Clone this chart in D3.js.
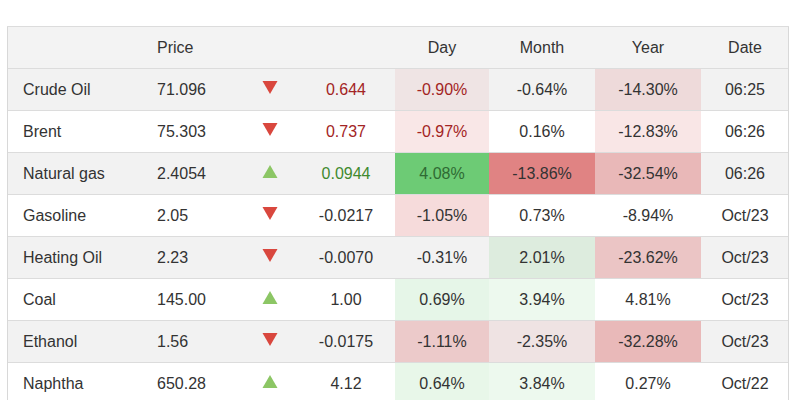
<!DOCTYPE html>
<html>
<head>
<meta charset="utf-8">
<script src="https://cdn.jsdelivr.net/npm/d3@7"></script>
<style>
  html, body { margin: 0; padding: 0; background: #fff; }
  svg { display: block; font-family: "Liberation Sans", Arial, Helvetica, sans-serif; }
</style>
</head>
<body>
<svg id="chart" width="800" height="400"></svg>
<script>
// ---- data ----
const headers = ["", "Price", "", "", "Day", "Month", "Year", "Date"];
const commodities = ["Crude Oil", "Brent", "Natural gas", "Gasoline", "Heating Oil", "Coal", "Ethanol", "Naphtha"];
const prices = ["71.096", "75.303", "2.4054", "2.05", "2.23", "145.00", "1.56", "650.28"];
const changes = ["0.644", "0.737", "0.0944", "-0.0217", "-0.0070", "1.00", "-0.0175", "4.12"];
const dayPct = [-0.90, -0.97, 4.08, -1.05, -0.31, 0.69, -1.11, 0.64];
const monthPct = [-0.64, 0.16, -13.86, 0.73, 2.01, 3.94, -2.35, 3.84];
const yearPct = [-14.30, -12.83, -32.54, -8.94, -23.62, 4.81, -32.28, 0.27];
const dates = ["06:25", "06:26", "06:26", "Oct/23", "Oct/23", "Oct/23", "Oct/23", "Oct/22"];

// ---- layout ----
const svg = d3.select("#chart");
const tLeft = 7, tRight = 789, tTop = 26, headH = 42, rowH = 42;
const edges = [7, 141, 240, 297, 395, 489, 595, 701, 789];
const col = i => ({ x0: edges[i], x1: edges[i + 1], cx: (edges[i] + edges[i + 1]) / 2 });

const rows = d3.range(commodities.length);
const y = d3.scaleBand().domain(rows).range([tTop + headH, tTop + headH + rowH * rows.length]).paddingInner(0).paddingOuter(0);

const pct = d3.formatLocale({ decimal: ".", thousands: ",", grouping: [3], currency: ["", ""], minus: "-" }).format(".2f");

const textColor = "#333";
const redBase = "#e08383", greenBase = "#6dcb75";
const redText = "#a32424", greenText = "#3f8a2e";

// heat scales (signed alpha: negative = red, positive = green)
const dayScale = d3.scaleLinear().domain([-1.11, -0.8, 0, 4.08]).range([-0.36, 0, 0, 1]).clamp(true);
const monthScale = d3.scaleLinear().domain([-13.86, -2.35, -1, 1, 2, 4]).range([-1, -0.13, 0, 0, 0.16, 0.12]).clamp(true);
const yearScale = d3.scaleLinear().domain([-32.5, -23.6, -14.3, -12.8, -9, 5]).range([-0.52, -0.4, -0.22, -0.2, 0, 0]).clamp(true);

// header background
svg.append("rect").attr("x", tLeft).attr("y", tTop).attr("width", tRight - tLeft).attr("height", headH).attr("fill", "#f3f3f3");

// row stripes
svg.selectAll("rect.stripe").data(rows).join("rect")
  .attr("class", "stripe")
  .attr("x", tLeft).attr("width", tRight - tLeft)
  .attr("y", d => y(d)).attr("height", y.bandwidth())
  .attr("fill", d => d % 2 === 0 ? "#f2f2f2" : "#ffffff");

// heat cells
const heatCols = [
  { idx: 4, vals: dayPct, scale: dayScale },
  { idx: 5, vals: monthPct, scale: monthScale },
  { idx: 6, vals: yearPct, scale: yearScale }
];
heatCols.forEach(hc => {
  const c = col(hc.idx);
  svg.append("g").selectAll("rect").data(rows).join("rect")
    .attr("x", c.x0).attr("width", c.x1 - c.x0)
    .attr("y", d => y(d)).attr("height", y.bandwidth())
    .attr("fill", d => hc.scale(hc.vals[d]) < 0 ? redBase : greenBase)
    .attr("fill-opacity", d => Math.abs(hc.scale(hc.vals[d])));
});

// row lines
svg.append("g").selectAll("line").data(rows).join("line")
  .attr("x1", tLeft).attr("x2", tRight)
  .attr("y1", d => y(d) + 0.5).attr("y2", d => y(d) + 0.5)
  .attr("stroke", "#dcdcdc").attr("stroke-width", 1);

// outer border
svg.append("line").attr("x1", tLeft + 0.5).attr("x2", tLeft + 0.5).attr("y1", tTop).attr("y2", 400).attr("stroke", "#d8d8d8");
svg.append("line").attr("x1", tRight - 0.5).attr("x2", tRight - 0.5).attr("y1", tTop).attr("y2", 400).attr("stroke", "#d8d8d8");
svg.append("line").attr("x1", tLeft).attr("x2", tRight).attr("y1", tTop + 0.5).attr("y2", tTop + 0.5).attr("stroke", "#dcdcdc");

// headers
const hdr = svg.append("g").attr("font-size", 16).attr("fill", textColor);
headers.forEach((h, i) => {
  if (!h) return;
  const c = col(i);
  const leftAligned = i <= 1;
  hdr.append("text")
    .attr("x", leftAligned ? c.x0 + 16 : c.cx)
    .attr("y", tTop + headH / 2)
    .attr("dy", "0.35em")
    .attr("text-anchor", leftAligned ? "start" : "middle")
    .text(h);
});

// body text
const body = svg.append("g").attr("font-size", 16);
const live = d => dates[d].includes(":");
const dirColor = d => dayPct[d] < 0 ? redText : greenText;

const addCol = (i, getText, align, color) => {
  const c = col(i);
  body.append("g").selectAll("text").data(rows).join("text")
    .attr("x", align === "start" ? c.x0 + 16 : c.cx)
    .attr("y", d => y(d) + y.bandwidth() / 2)
    .attr("dy", "0.35em")
    .attr("text-anchor", align)
    .attr("fill", color)
    .text(getText);
};
addCol(0, d => commodities[d], "start", textColor);
addCol(1, d => prices[d], "start", textColor);
addCol(3, d => changes[d], "middle", d => live(d) ? dirColor(d) : textColor);
addCol(4, d => pct(dayPct[d]) + "%", "middle", d => live(d) ? (dayPct[d] < 0 ? redText : "#2f6a33") : textColor);
addCol(5, d => pct(monthPct[d]) + "%", "middle", textColor);
addCol(6, d => pct(yearPct[d]) + "%", "middle", textColor);
addCol(7, d => dates[d], "middle", textColor);

// arrows
const ac = col(2);
const arrowX = ac.cx + 1.5;
svg.append("g").selectAll("path").data(rows).join("path")
  .attr("transform", d => `translate(${arrowX},${y(d) + y.bandwidth() / 2 - 1.5})`)
  .attr("d", d => dayPct[d] < 0 ? "M-7.5,-6.5L7.5,-6.5L0,6.5Z" : "M-7.5,6.5L7.5,6.5L0,-6.5Z")
  .attr("fill", d => dayPct[d] < 0 ? "#d9473e" : "#8cc665");
</script>
</body>
</html>
